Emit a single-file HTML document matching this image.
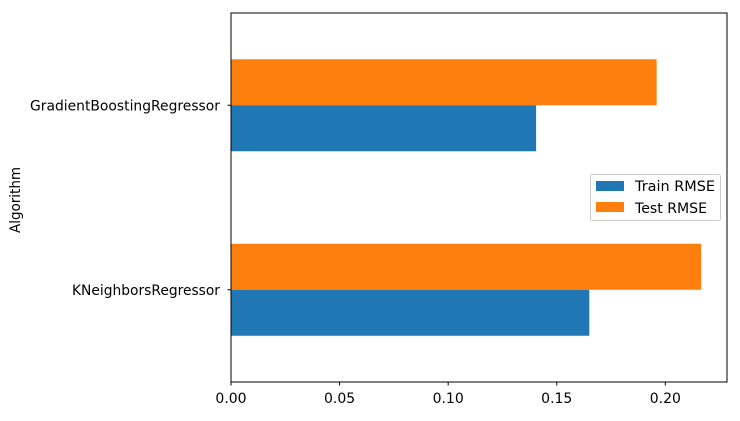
<!DOCTYPE html>
<html><head><meta charset="utf-8"><style>
body{margin:0;background:#fff;}
svg text{font-family:"DejaVu Sans","Liberation Sans",sans-serif;font-size:14px;fill:#000;}
svg text.tick{font-size:14px;}
</style></head><body>
<svg id="chart" width="740" height="416">
<g id="bars"></g>
<rect x="231" y="13" width="496" height="369" fill="none" stroke="#000" stroke-width="1"/>
<g id="axes"></g>
<text x="20" y="200" transform="rotate(-90 20 200)" text-anchor="middle" textLength="66" lengthAdjust="spacingAndGlyphs">Algorithm</text>
<g>
<rect x="590.5" y="174.5" width="130" height="46" rx="2" fill="#fff" fill-opacity="0.8" stroke="#ccc"/>
<rect x="596" y="181" width="28" height="10" fill="#1f77b4"/>
<text x="635" y="191" textLength="80" lengthAdjust="spacingAndGlyphs">Train RMSE</text>
<rect x="596" y="202" width="28" height="10" fill="#ff7f0e"/>
<text x="635" y="213" textLength="72" lengthAdjust="spacingAndGlyphs">Test RMSE</text>
</g>
</svg>
<script>
const categories = ["KNeighborsRegressor", "GradientBoostingRegressor"];
const trainRMSE = [0.165, 0.1405];
const testRMSE = [0.2165, 0.196];
const xTicks = [0, 0.05, 0.10, 0.15, 0.20];
const xTickLabels = ["0.00", "0.05", "0.10", "0.15", "0.20"];

const X0 = 231, X1 = 727, XMAX = 0.2284, Y0 = 13, Y1 = 382;
const xs = v => X0 + v / XMAX * (X1 - X0);
const catH = (Y1 - Y0) / categories.length;
const yc = i => Y1 - (i + 0.5) * catH;
const barH = 46;
const labelLen = [148, 190];
const NS = "http://www.w3.org/2000/svg";
const bars = document.getElementById('bars');
const axes = document.getElementById('axes');

categories.forEach((c, i) => {
  const cy = yc(i);
  const t = document.createElementNS(NS, 'rect');
  t.setAttribute('x', X0); t.setAttribute('y', cy - barH);
  t.setAttribute('width', xs(testRMSE[i]) - X0); t.setAttribute('height', barH);
  t.setAttribute('fill', '#ff7f0e');
  
  
  bars.appendChild(t);
  const r = document.createElementNS(NS, 'rect');
  r.setAttribute('x', X0); r.setAttribute('y', cy);
  r.setAttribute('width', xs(trainRMSE[i]) - X0); r.setAttribute('height', barH);
  r.setAttribute('fill', '#1f77b4');
  
  
  bars.appendChild(r);
  const tk = document.createElementNS(NS, 'line');
  tk.setAttribute('x1', X0 - 3.5); tk.setAttribute('x2', X0); tk.setAttribute('y1', cy); tk.setAttribute('y2', cy);
  tk.setAttribute('stroke', '#000');
  
  
  axes.appendChild(tk);
  const lb = document.createElementNS(NS, 'text');
  lb.setAttribute('x', X0 - 11); lb.setAttribute('y', cy + 5); lb.setAttribute('text-anchor', 'end');
  lb.setAttribute('textLength', labelLen[i]);
  lb.setAttribute('lengthAdjust', 'spacingAndGlyphs');
  lb.textContent = c;
  
  
  axes.appendChild(lb);
});
xTicks.forEach((v, i) => {
  const x = xs(v);
  const tk = document.createElementNS(NS, 'line');
  tk.setAttribute('x1', x); tk.setAttribute('x2', x); tk.setAttribute('y1', Y1); tk.setAttribute('y2', Y1 + 3.5);
  tk.setAttribute('stroke', '#000');
  
  
  axes.appendChild(tk);
  const lb = document.createElementNS(NS, 'text');
  lb.setAttribute('class', 'tick');
  lb.setAttribute('x', x); lb.setAttribute('y', Y1 + 21); lb.setAttribute('text-anchor', 'middle');
  lb.textContent = xTickLabels[i];
  
  
  axes.appendChild(lb);
});
</script>
</body></html>
